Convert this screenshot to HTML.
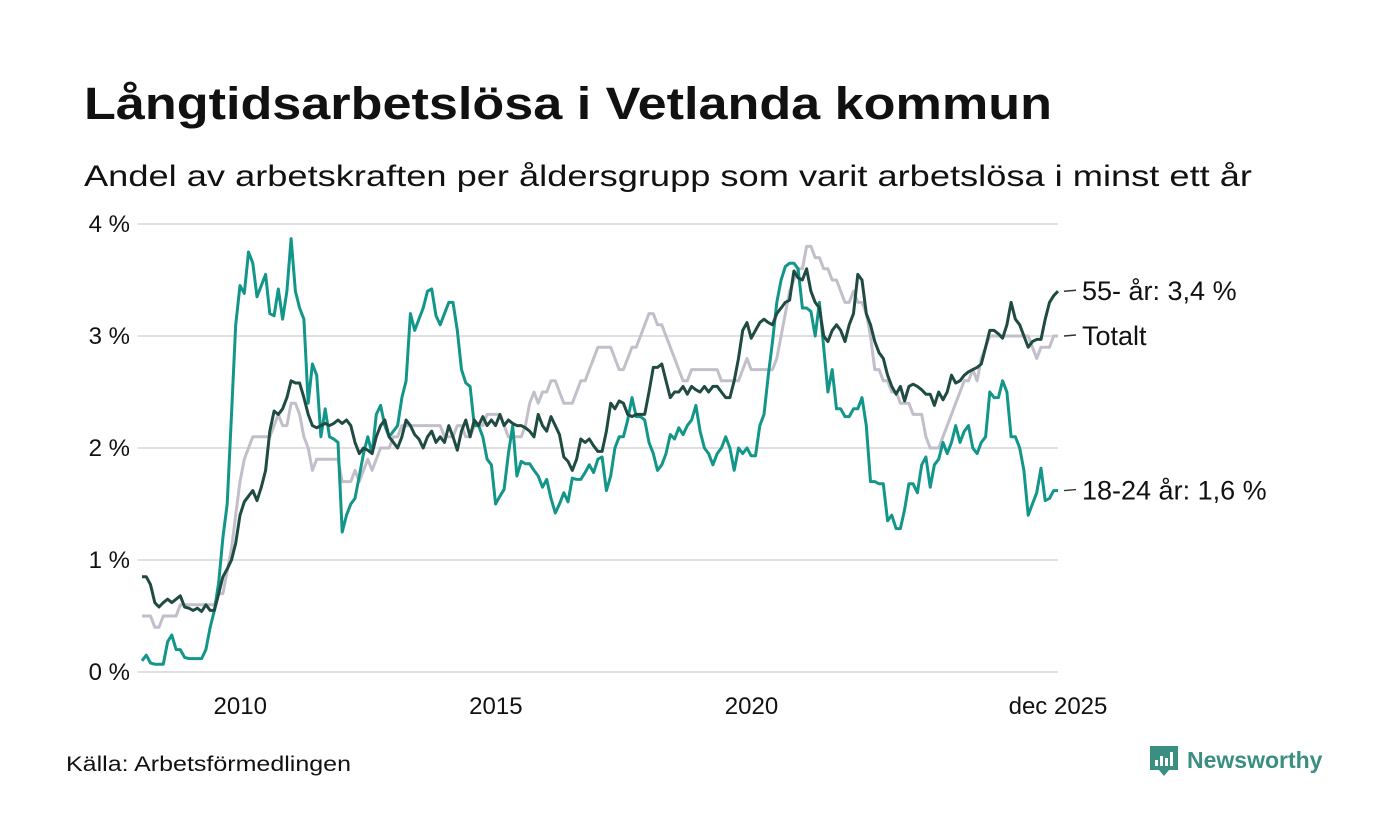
<!DOCTYPE html>
<html><head><meta charset="utf-8"><style>
html,body{margin:0;padding:0;background:#fff;}
svg{display:block;font-family:"Liberation Sans",sans-serif;}
</style></head><body>
<svg id="chart" width="1400" height="840" viewBox="0 0 1400 840">
<text x="84" y="119" font-size="45" font-weight="bold" fill="#111" textLength="968" lengthAdjust="spacingAndGlyphs">Långtidsarbetslösa i Vetlanda kommun</text>
<text x="84" y="186" font-size="30" fill="#111" textLength="1168" lengthAdjust="spacingAndGlyphs">Andel av arbetskraften per åldersgrupp som varit arbetslösa i minst ett år</text>
<g id="grid"></g>
<g id="yticks"></g>
<g id="xticks"></g>
<g id="lines"></g>
<g id="labels"></g>
<text x="66" y="771" font-size="21" fill="#111" textLength="285" lengthAdjust="spacingAndGlyphs">Källa: Arbetsförmedlingen</text>
<g>
<path d="M1150 746h28v24h-9l-5 6l-5-6h-9z" fill="#3a8f80"/>
<rect x="1155" y="760" width="3" height="6" fill="#fff"/><rect x="1160" y="756" width="3" height="10" fill="#fff"/><rect x="1165" y="758" width="3" height="8" fill="#fff"/><rect x="1170" y="752" width="3" height="14" fill="#fff"/>
<text x="1187" y="768" font-size="23" font-weight="bold" fill="#3a8f80">Newsworthy</text>
</g>
</svg>
<script>
const startYear = 2008;
const yTicks = [0,1,2,3,4];
const yTickLabels = ["0 %","1 %","2 %","3 %","4 %"];
const xTicks = [2010,2015,2020,2025.917];
const xTickLabels = ["2010","2015","2020","dec 2025"];
const seriesNames = ["Totalt","18-24 år","55- år"];
const totalt = [
0.5,0.5,0.5,0.4,0.4,0.5,0.5,0.5,0.5,0.6,0.6,0.6,
0.6,0.6,0.6,0.6,0.6,0.6,0.7,0.7,0.9,1.1,1.4,1.7,
1.9,2.0,2.1,2.1,2.1,2.1,2.1,2.2,2.3,2.2,2.2,2.4,
2.4,2.3,2.1,2.0,1.8,1.9,1.9,1.9,1.9,1.9,1.9,1.7,
1.7,1.7,1.8,1.7,1.8,1.9,1.8,1.9,2.0,2.0,2.0,2.1,
2.1,2.2,2.2,2.2,2.2,2.2,2.2,2.2,2.2,2.2,2.2,2.1,
2.1,2.1,2.2,2.2,2.1,2.1,2.2,2.2,2.2,2.3,2.3,2.3,
2.3,2.2,2.1,2.1,2.1,2.1,2.2,2.4,2.5,2.4,2.5,2.5,
2.6,2.6,2.5,2.4,2.4,2.4,2.5,2.6,2.6,2.7,2.8,2.9,
2.9,2.9,2.9,2.8,2.7,2.7,2.8,2.9,2.9,3.0,3.1,3.2,
3.2,3.1,3.1,3.0,2.9,2.8,2.7,2.6,2.6,2.7,2.7,2.7,
2.7,2.7,2.7,2.7,2.6,2.6,2.6,2.6,2.6,2.7,2.8,2.7,
2.7,2.7,2.7,2.7,2.7,2.8,3.0,3.2,3.4,3.5,3.6,3.6,
3.8,3.8,3.7,3.7,3.6,3.6,3.5,3.5,3.4,3.3,3.3,3.4,
3.3,3.3,3.2,3.0,2.7,2.7,2.6,2.6,2.5,2.5,2.4,2.4,
2.4,2.3,2.3,2.3,2.1,2.0,2.0,2.0,2.1,2.2,2.3,2.4,
2.5,2.6,2.6,2.7,2.6,2.8,2.9,3.0,3.0,3.0,3.0,3.0,
3.0,3.0,3.0,3.0,3.0,2.9,2.8,2.9,2.9,2.9,3.0,3.0];
const ung = [
0.1,0.15,0.08,0.07,0.07,0.07,0.27,0.33,0.2,0.2,0.13,0.12,
0.12,0.12,0.12,0.2,0.4,0.55,0.8,1.2,1.5,2.3,3.1,3.45,
3.38,3.75,3.65,3.35,3.45,3.55,3.2,3.18,3.42,3.15,3.4,3.87,
3.4,3.25,3.15,2.4,2.75,2.65,2.1,2.35,2.1,2.08,2.05,1.25,
1.4,1.5,1.55,1.75,1.95,2.1,1.95,2.3,2.38,2.2,2.1,2.15,
2.2,2.45,2.6,3.2,3.05,3.15,3.25,3.4,3.42,3.18,3.1,3.2,
3.3,3.3,3.05,2.7,2.58,2.55,2.2,2.2,2.1,1.9,1.85,1.5,
1.57,1.63,1.95,2.2,1.75,1.88,1.86,1.86,1.8,1.75,1.65,1.72,
1.55,1.42,1.5,1.6,1.52,1.73,1.72,1.72,1.78,1.85,1.78,1.9,
1.92,1.62,1.75,2.0,2.1,2.1,2.25,2.45,2.28,2.28,2.25,2.05,
1.95,1.8,1.85,1.95,2.12,2.08,2.18,2.12,2.2,2.25,2.38,2.15,
2.0,1.95,1.85,1.95,2.0,2.1,2.0,1.8,2.0,1.95,2.0,1.93,
1.93,2.2,2.3,2.65,2.95,3.3,3.5,3.62,3.65,3.65,3.6,3.25,
3.25,3.22,3.0,3.3,2.9,2.5,2.7,2.35,2.35,2.28,2.28,2.35,
2.35,2.45,2.2,1.7,1.7,1.68,1.68,1.35,1.4,1.28,1.28,1.45,
1.68,1.68,1.6,1.85,1.92,1.65,1.85,1.9,2.05,1.95,2.05,2.2,
2.05,2.15,2.2,2.0,1.95,2.05,2.1,2.5,2.45,2.45,2.6,2.5,
2.1,2.1,2.0,1.8,1.4,1.5,1.6,1.82,1.53,1.55,1.62,1.62];
const aldre = [
0.85,0.85,0.78,0.62,0.58,0.62,0.65,0.62,0.65,0.68,0.58,0.57,
0.55,0.57,0.54,0.6,0.55,0.55,0.7,0.85,0.92,1.0,1.15,1.4,
1.52,1.57,1.62,1.53,1.65,1.8,2.15,2.33,2.3,2.35,2.45,2.6,
2.58,2.58,2.45,2.3,2.2,2.18,2.2,2.22,2.2,2.22,2.25,2.22,
2.25,2.2,2.05,1.95,2.0,1.98,1.95,2.1,2.2,2.25,2.1,2.05,
2.0,2.1,2.25,2.2,2.12,2.08,2.0,2.1,2.15,2.05,2.1,2.05,
2.2,2.1,1.98,2.15,2.25,2.1,2.25,2.2,2.28,2.2,2.25,2.2,
2.3,2.2,2.25,2.22,2.2,2.2,2.18,2.15,2.1,2.3,2.2,2.15,
2.28,2.2,2.12,1.92,1.88,1.8,1.9,2.08,2.05,2.08,2.02,1.97,
1.97,2.15,2.4,2.35,2.42,2.4,2.3,2.28,2.3,2.3,2.3,2.5,
2.72,2.72,2.75,2.6,2.45,2.5,2.5,2.55,2.48,2.55,2.52,2.5,
2.55,2.5,2.55,2.55,2.5,2.45,2.45,2.6,2.8,3.05,3.12,2.98,
3.05,3.12,3.15,3.12,3.1,3.2,3.25,3.3,3.32,3.58,3.52,3.5,
3.6,3.4,3.3,3.25,3.0,2.95,3.05,3.1,3.05,2.95,3.1,3.2,
3.55,3.5,3.2,3.1,2.95,2.85,2.8,2.65,2.55,2.48,2.55,2.42,
2.55,2.57,2.55,2.52,2.48,2.48,2.38,2.5,2.43,2.5,2.65,2.58,
2.6,2.65,2.68,2.7,2.72,2.75,2.9,3.05,3.05,3.02,2.98,3.1,
3.3,3.15,3.1,3.0,2.9,2.95,2.97,2.97,3.15,3.3,3.36,3.4];
const endLabels = ["55- år: 3,4 %","Totalt","18-24 år: 1,6 %"];

const NS="http://www.w3.org/2000/svg";
const X0=142, X1=1058, Y0=672, YH=112;
const nMonths = totalt.length;
function xIdx(i){ return X0 + i*(X1-X0)/(nMonths-1); }
function yScale(v){ return Y0 - v*YH; }
function xYear(t){ return X0 + ((t-startYear)*12)*(X1-X0)/(nMonths-1); }
function mk(tag,attrs,parent){const e=document.createElementNS(NS,tag);for(const k in attrs)e.setAttribute(k,attrs[k]);parent.appendChild(e);return e;}

const grid=document.getElementById('grid'), yt=document.getElementById('yticks'), xt=document.getElementById('xticks');
yTicks.forEach((v,i)=>{
  const l=mk('line',{x1:138,x2:1058,y1:yScale(v),y2:yScale(v),stroke:'#e0dfe3','stroke-width':2},grid);
  
  
  const t=mk('text',{x:130,y:yScale(v)+8,'text-anchor':'end','font-size':24,fill:'#111'},yt);
  t.textContent=yTickLabels[i];
  
  
});
xTicks.forEach((v,i)=>{
  const t=mk('text',{x:i==3?1058:xYear(v)-4,y:714,'text-anchor':'middle','font-size':24,fill:'#111'},xt);
  t.textContent=xTickLabels[i];
  
  
});
const lines=document.getElementById('lines');
[[totalt,'#c2bfcb','line-totalt'],[ung,'#13968a','line-18-24'],[aldre,'#1f4b42','line-55']].forEach(([arr,c,n])=>{
  const d=arr.map((v,i)=>(i?'L':'M')+xIdx(i).toFixed(1)+' '+yScale(v).toFixed(1)).join(' ');
  const p=mk('path',{d:d,fill:'none',stroke:c,'stroke-width':3,'stroke-linejoin':'round'},lines);
  
  
});
const lab=document.getElementById('labels');
[[aldre,0],[totalt,1],[ung,2]].forEach(([arr,i])=>{
  const y=yScale(arr[arr.length-1]);
  const l=mk('line',{x1:1064,x2:1076,y1:y,y2:y-1,stroke:'#333','stroke-width':1.5},lab);
  
  
  const t=mk('text',{x:1082,y:y+9,'font-size':27,fill:'#111'},lab);
  t.textContent=endLabels[i];
  
  
});
</script>
</body></html>
